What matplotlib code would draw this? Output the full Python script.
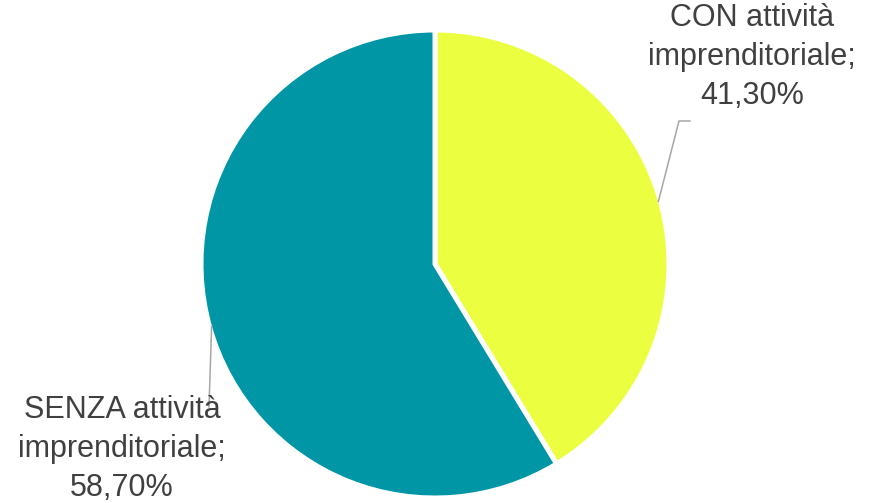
import matplotlib.pyplot as plt
import numpy as np

labels = ['CON attività\nimprenditoriale;\n41,30%', 'SENZA attività\nimprenditoriale;\n58,70%']
values = [41.3, 58.7]
colors = ['#EBFF40', '#0096A6']

W, H = 875, 503
fig = plt.figure(figsize=(W / 100, H / 100), dpi=100)
ax = fig.add_axes([0, 0, 1, 1])
ax.set_xlim(0, W)
ax.set_ylim(0, H)
ax.set_aspect('equal')
ax.axis('off')

cx, cy, r = 435, H - 264, 234
wedges, _ = ax.pie(values, colors=colors, startangle=90, counterclock=False,
                   center=(cx, cy), radius=r, frame=True,
                   wedgeprops=dict(edgecolor='white', linewidth=3.6))
ax.set_xlim(0, W)
ax.set_ylim(0, H)
ax.axis('off')

# leader lines start at wedge mid-angle on the rim
text_pos = [(752, H - 57), (122, H - 449)]
elbows = [[(679, H - 121), (690, H - 121)], [(209, H - 407)]]
for w, lab, (tx, ty), elb in zip(wedges, labels, text_pos, elbows):
    mid = np.deg2rad((w.theta1 + w.theta2) / 2)
    sx, sy = cx + (r - 2) * np.cos(mid), cy + (r - 2) * np.sin(mid)
    xs = [sx] + [p[0] for p in elb]
    ys = [sy] + [p[1] for p in elb]
    ax.plot(xs, ys, color='#A6A6A6', lw=1.1)
    ax.text(tx, ty, lab, ha='center', va='center', fontsize=22,
            family='Liberation Sans', color='#404040', linespacing=1.38)

fig.savefig('out.png', dpi=100)
